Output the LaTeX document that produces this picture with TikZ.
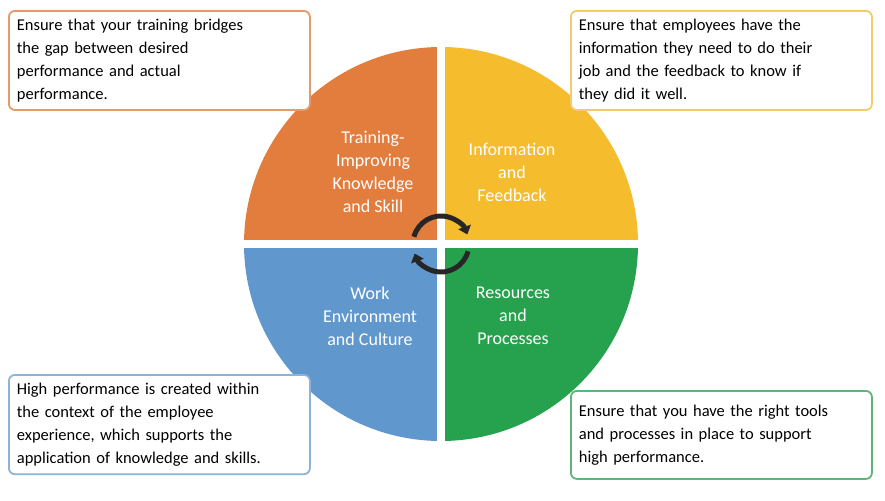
\documentclass[tikz,border=0pt]{standalone}
\usepackage{fontspec}
\setmainfont{Carlito}
\usetikzlibrary{arrows.meta}
\begin{document}
\begin{tikzpicture}[x=1pt,y=-1pt,
 box/.style={draw=#1,line width=1.8pt,rounded corners=6pt,fill=white,anchor=north west,align=left,text width=285pt,inner sep=8pt,font=\fontsize{16.5}{23}\selectfont},
 qlab/.style={text=white,align=center,font=\fontsize{18}{23}\selectfont},
 cyc/.style={line width=5pt,draw=black!85,-{Triangle[length=8pt,width=13pt]}}]
\useasboundingbox (0,0) rectangle (885,500);
\definecolor{qo}{HTML}{E27D3E}\definecolor{qy}{HTML}{F5BC2E}
\definecolor{qb}{HTML}{6097CD}\definecolor{qg}{HTML}{26A24E}
\definecolor{bo}{HTML}{E59A6A}\definecolor{by}{HTML}{F3CB6A}
\definecolor{bb}{HTML}{8FB2D9}\definecolor{bg}{HTML}{5FB479}
\begin{scope}
\clip (441,244) circle (197);
\fill[qo] (230,30) rectangle (437,240);
\fill[qy] (445,30) rectangle (660,240);
\fill[qb] (230,248) rectangle (437,460);
\fill[qg] (445,248) rectangle (660,460);
\end{scope}
\node[qlab] (t1) at (373,172) {Training-\\Improving\\Knowledge\\and Skill};
\node[qlab] (t2) at (512,172) {Information\\and\\Feedback};
\node[qlab] (t3) at (370,316) {Work\\Environment\\and Culture};
\node[qlab] (t4) at (513,316) {Resources\\and\\Processes};
\coordinate (c) at (441,244);
\draw[cyc] ([shift={(165:28pt)}]c) arc[start angle=165,end angle=20,radius=28pt];
\draw[cyc] ([shift={(-15:28pt)}]c) arc[start angle=-15,end angle=-160,radius=28pt];
\node[box=bo] (b1) at (8,10) {Ensure that your training bridges\\the gap between desired\\performance and actual\\performance.};
\node[box=by] (b2) at (570,10) {Ensure that employees have the\\information they need to do their\\job and the feedback to know if\\they did it well.};
\node[box=bb] (b3) at (8,374) {High performance is created within\\the context of the employee\\experience, which supports the\\application of knowledge and skills.};
\node[box=bg,minimum height=88pt] (b4) at (570,390) {Ensure that you have the right tools\\and processes in place to support\\high performance.};
\end{tikzpicture}
\end{document}
